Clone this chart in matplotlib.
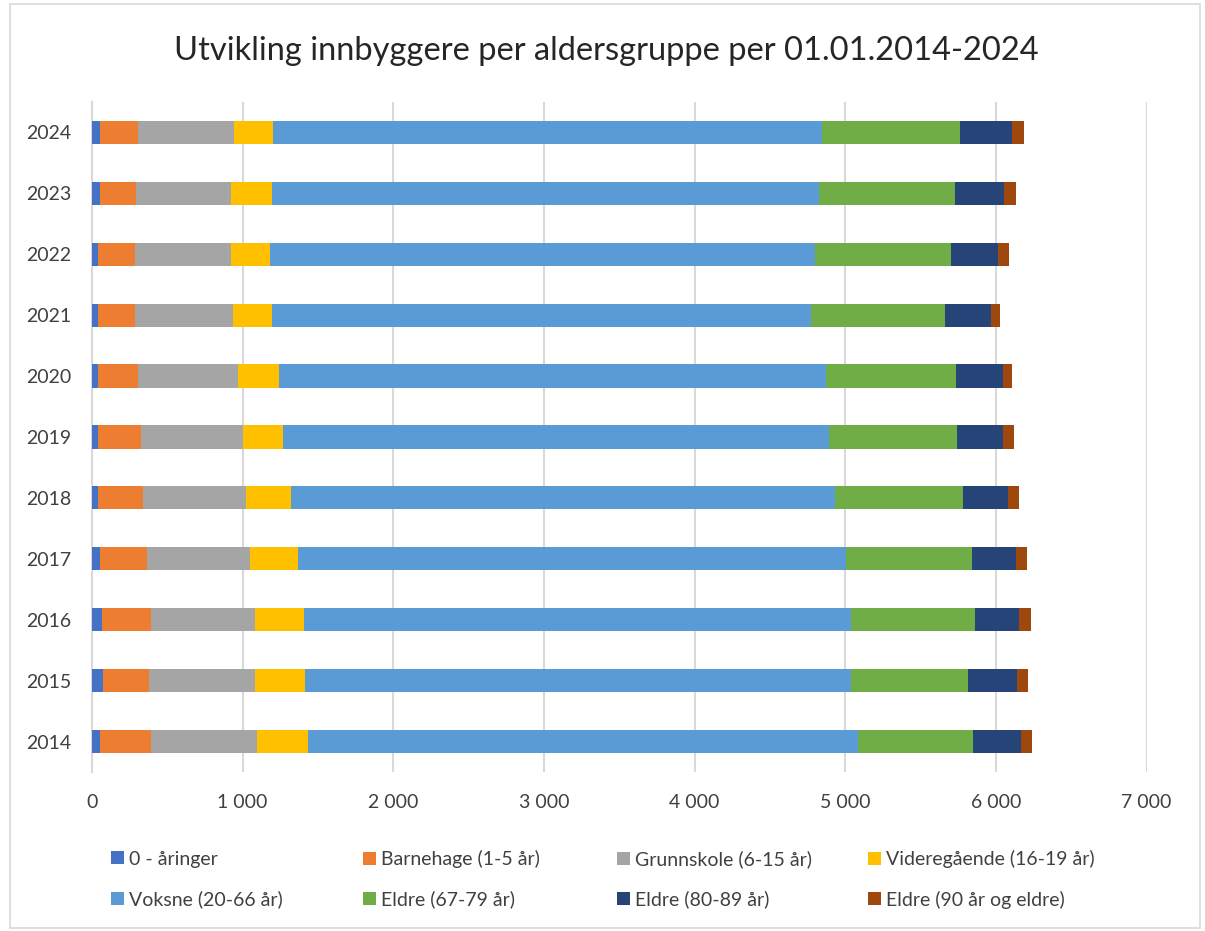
import matplotlib
matplotlib.use("Agg")
import matplotlib.pyplot as plt
import numpy as np
from matplotlib.patches import Rectangle
from matplotlib.ticker import FuncFormatter

years = ["2014", "2015", "2016", "2017", "2018", "2019",
         "2020", "2021", "2022", "2023", "2024"]

groups = ["0 - åringer", "Barnehage (1-5 år)", "Grunnskole (6-15 år)",
          "Videregående (16-19 år)", "Voksne (20-66 år)", "Eldre (67-79 år)",
          "Eldre (80-89 år)", "Eldre (90 år og eldre)"]

# values per year, 2014 -> 2024
aar0 = [52, 71, 64, 52, 43, 43, 38, 43, 43, 52, 55]
barnehage = [340, 310, 328, 313, 298, 282, 270, 240, 240, 240, 253]
grunnskole = [705, 701, 690, 684, 683, 675, 659, 653, 641, 632, 635]
videregaende = [337, 334, 325, 319, 297, 268, 276, 259, 261, 271, 261]
voksne = [3648, 3622, 3631, 3635, 3609, 3622, 3629, 3580, 3616, 3631, 3644]
eldre67 = [768, 779, 821, 841, 853, 854, 863, 887, 903, 903, 914]
eldre80 = [316, 325, 294, 292, 298, 301, 310, 303, 307, 325, 343]
eldre90 = [75, 73, 79, 73, 71, 73, 64, 64, 73, 82, 79]

series = [aar0, barnehage, grunnskole, videregaende, voksne,
          eldre67, eldre80, eldre90]
colors = ["#4472C4", "#ED7D31", "#A5A5A5", "#FFC000",
          "#5B9BD5", "#70AD47", "#264478", "#9E480E"]

plt.rcParams["font.family"] = ["Lato", "DejaVu Sans"]

fig = plt.figure(figsize=(12.05, 9.31), dpi=100)
fig.patches.append(Rectangle((0.008, 0.003), 0.988, 0.993, transform=fig.transFigure,
                             fill=False, ec="#d9d9d9", lw=1.2))
ax = fig.add_axes([0.0763, 0.1708, 0.8753, 0.7197])

y = np.arange(len(years))
left = np.zeros(len(years))
for name, vals, c in zip(groups, series, colors):
    ax.barh(y, vals, left=left, height=0.38, color=c, label=name, zorder=3)
    left += np.array(vals)

ax.set_xlim(0, 7000)
ax.set_ylim(-0.5, len(years) - 0.5)
ax.set_xticks(np.arange(0, 7001, 1000))
ax.xaxis.set_major_formatter(FuncFormatter(lambda v, p: f"{int(v):,}".replace(",", " ")))
ax.set_yticks(y)
ax.set_yticklabels(years)
ax.grid(axis="x", color="#d9d9d9", lw=1.5, zorder=0)
for s in ["top", "right", "bottom"]:
    ax.spines[s].set_visible(False)
ax.spines["left"].set_color("#d9d9d9")
ax.spines["left"].set_linewidth(1.5)
ax.tick_params(axis="both", length=0, labelsize=14, colors="#404040")
ax.tick_params(axis="x", pad=16)
ax.tick_params(axis="y", pad=15)

fig.text(0.503, 0.945, "Utvikling innbyggere per aldersgruppe per 01.01.2014-2024",
         ha="center", va="center", fontsize=23.5, color="#262626")

# Excel-style legend: 4 equal columns, 2 rows
handles, labels = ax.get_legend_handles_labels()
col_x = [0.0921, 0.3012, 0.512, 0.7203]
for k, x0 in enumerate(col_x):
    fig.legend([handles[k], handles[k + 4]], [labels[k], labels[k + 4]],
               loc="center left", bbox_to_anchor=(x0, 0.0555), ncol=1, frameon=False,
               fontsize=14, handlelength=0.65, handleheight=0.65, handletextpad=0.3,
               labelspacing=1.15, labelcolor="#404040", borderaxespad=0, borderpad=0)

fig.savefig("out.png", dpi=100)
